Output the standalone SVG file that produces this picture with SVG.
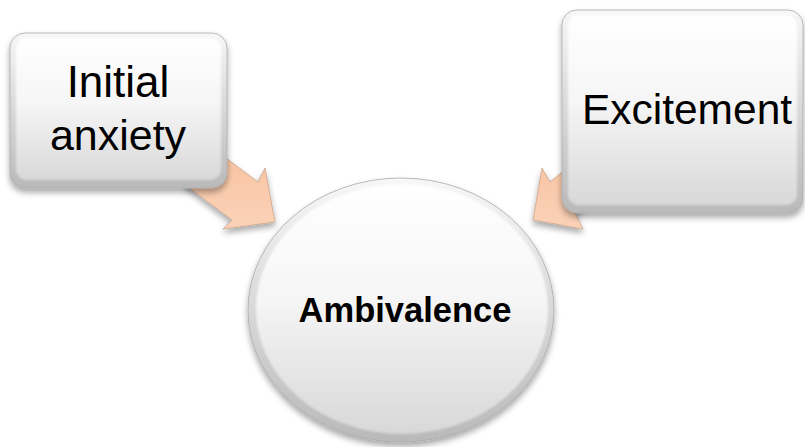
<svg xmlns="http://www.w3.org/2000/svg" width="805" height="447" viewBox="0 0 805 447">
<defs>
<linearGradient id="rim" x1="0" y1="0" x2="0" y2="1">
<stop offset="0" stop-color="#f7f7f7"/>
<stop offset="1" stop-color="#b9b9b9"/>
</linearGradient>
<linearGradient id="face" x1="0" y1="0" x2="0" y2="1">
<stop offset="0" stop-color="#ffffff"/>
<stop offset="0.45" stop-color="#f6f6f6"/>
<stop offset="1" stop-color="#d8d8d8"/>
</linearGradient>
<linearGradient id="peach" x1="0" y1="0" x2="0" y2="1">
<stop offset="0" stop-color="#f8c2a0"/>
<stop offset="1" stop-color="#fbd2b8"/>
</linearGradient>
<filter id="shadow" x="-20%" y="-20%" width="140%" height="150%">
<feGaussianBlur in="SourceAlpha" stdDeviation="3"/>
<feOffset dx="0" dy="4" result="b"/>
<feComponentTransfer><feFuncA type="linear" slope="0.35"/></feComponentTransfer>
<feMerge><feMergeNode/><feMergeNode in="SourceGraphic"/></feMerge>
</filter>
<filter id="soft" x="-10%" y="-10%" width="120%" height="120%">
<feGaussianBlur stdDeviation="1.2"/>
</filter>
</defs>
<style>
.rim{fill:url(#rim);stroke:#a9a9a9;stroke-width:0.8}
.face{fill:url(#face)}
.arrow{fill:url(#peach);stroke:#c9a58c;stroke-width:0.8;stroke-linejoin:round}
.lbl{font-family:"Liberation Sans",Arial,sans-serif;fill:#000;text-anchor:middle}
.bold{font-weight:bold}
</style>
<g id="connectors" filter="url(#shadow)">
<polygon class="arrow" points="210,146 258,182 265,168 275,222 223,229 232,220 184,184"/>
<polygon class="arrow" points="590,150 550,182 542,168 533,220 583,229 575,213 610,188"/>
</g>
<g id="node-initial">
<rect class="rim" x="10" y="33" width="217" height="155" rx="15" filter="url(#shadow)"/>
<rect class="face" x="16" y="38" width="205" height="142" rx="11" filter="url(#soft)"/>
<text class="lbl" x="118" y="97" font-size="44">Initial</text>
<text class="lbl" x="118" y="150" font-size="43">anxiety</text>
</g>
<g id="node-excitement">
<rect class="rim" x="562" y="10" width="241" height="203" rx="15" filter="url(#shadow)"/>
<rect class="face" x="568" y="15" width="229" height="190" rx="11" filter="url(#soft)"/>
<text class="lbl" x="687" y="124" font-size="42.5">Excitement</text>
</g>
<g id="node-ambivalence">
<ellipse class="rim" cx="401" cy="310" rx="153" ry="132" filter="url(#shadow)"/>
<ellipse class="face" cx="402" cy="309" rx="146" ry="125" filter="url(#soft)"/>
<text class="lbl bold" x="405" y="322" font-size="34.5">Ambivalence</text>
</g>
</svg>
